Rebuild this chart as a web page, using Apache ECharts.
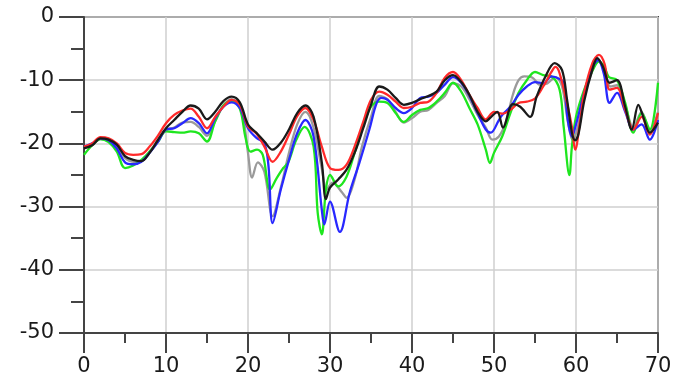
<!DOCTYPE html>
<html>
<head>
<meta charset="utf-8">
<script src="https://cdn.jsdelivr.net/npm/echarts@6/dist/echarts.min.js"></script>
<style>html,body{margin:0;padding:0;background:#fff}#c{width:688px;height:383px}</style>
</head>
<body>
<div id="c"></div>
<script>
const xTicks = [0, 10, 20, 30, 40, 50, 60, 70];
const yTicks = [0, -10, -20, -30, -40, -50];

const blackX = [0,1,2,3,4,5,6,7,8,9,10,11,12,13,14,15,16,17,18,19,20,21,22,23,24,25,26,27,28,29,29.5,30,31,32,33,34,35,36,37,38,39,40,41,42,43,44,45,46,47,48,49,49.5,50.4,51.1,52.3,53.2,54.4,55.2,56.2,57.4,58.3,58.9,59.5,59.9,60.3,61,62,62.6,63.3,64.1,65,66,66.8,67.6,68.2,69,70];
const blackY = [-20.8,-20.3,-19.2,-19.4,-20.2,-22,-22.6,-22.8,-21.5,-19.5,-17.6,-16.3,-15,-14,-14.5,-16.2,-15,-13.3,-12.6,-13.5,-17,-18.3,-19.7,-21,-19.9,-17.8,-15.2,-14,-15.8,-23,-28.8,-27,-25.7,-24.2,-21.5,-17.8,-13.9,-11,-11.5,-12.8,-13.9,-13.6,-13,-12.5,-11.8,-10,-9.2,-10.3,-12.3,-15,-16.5,-16,-15,-17.5,-13.8,-14.2,-15.8,-12.6,-9.6,-7.3,-8.4,-13,-18.3,-19.5,-18.5,-13.3,-8.3,-6.5,-7.9,-10.4,-10,-14.2,-17.8,-13.9,-15.8,-18.3,-16.7];

const redX = [0,1,2,3,4,5,6,7,8,9,10,11,12,13,14,15,16,17,18,19,20,21,22,23,24,25,26,27,28,29,30,31,32,33,34,35,36,37,38,39,40,41,42,43,44,45,46,47,48,49,50,51,52,53,54,55,56,57,57.5,58,59,59.5,59.9,60.5,61,62,62.8,63.5,64.1,65,66,67,68,69,70];
const redY = [-20.5,-20,-19,-19.2,-20,-21.5,-21.8,-21.7,-20.5,-18.8,-16.8,-15.5,-14.8,-14.5,-15.8,-17.6,-15.8,-14.2,-13.1,-13.9,-17.3,-18.4,-20.5,-22.9,-21.3,-18.6,-15.7,-14.4,-16.3,-20.5,-23.9,-24.2,-23.4,-20.5,-16.8,-13.1,-11.8,-12.3,-13.4,-14.4,-14.2,-13.6,-13.4,-12,-9.6,-8.7,-10,-12.3,-14.4,-16.2,-15,-15.3,-14.7,-13.6,-13.4,-12.9,-11,-8.7,-7.9,-8.9,-14.2,-17.4,-21,-16.5,-12,-7.3,-6,-7.5,-11.5,-11.2,-14.7,-17.8,-15.8,-18.6,-15.2];

const blueX = [0,1,2,3,4,5,6,7,8,9,10,11,12,13,14,15,16,17,18,19,20,21,22,22.5,23,24,25,26,27,28,29,29.3,30,31.2,32.4,33.6,34.8,35.7,36.3,37,38,39,40,41,42,43,44,45,46,47,48,49,49.6,50.6,51,52,53,54,55,56,57,58,58.5,59,59.5,60,61,62,62.7,63.4,64.1,65,66,67,68,69,70];
const blueY = [-20.5,-20,-19.2,-19.5,-20.8,-23,-23.3,-22.9,-21.5,-19.8,-17.8,-17.6,-16.8,-16,-16.8,-18.4,-16,-14.2,-13.5,-14.4,-17.6,-19.1,-20,-23.6,-32.6,-27.3,-22.6,-18.4,-16.3,-18.9,-30.5,-32.8,-29.2,-34,-27.8,-23,-17.8,-13.6,-12.8,-13.1,-14.4,-15.2,-14.4,-12.8,-12.6,-12,-10.7,-9.5,-10.4,-12.5,-15.2,-17.8,-18.3,-16.3,-15.5,-14.2,-12.3,-11,-10.3,-10.5,-9.4,-9.8,-10.4,-16.3,-18.9,-17,-12,-8,-6.8,-9,-13.6,-12,-15,-17.8,-17,-19.4,-16.3];

const greenX = [0,1,2,3,4,5,6,7,8,9,10,11,12,13,14,15,16,17,18,19,19.7,20.3,21.1,21.8,22.7,23.5,24.3,24.9,25.9,26.9,28,28.5,29,29.5,30,31,32,33,34,35,36,37,38,39,40,41,42,43,44,45,46,47,48,49,49.5,50,51,52,53,54,55,56,57,58,58.5,59.2,59.5,60,61,62,62.8,63.5,64,65,66,67,68,69,70];
const greenY = [-21.8,-20.3,-19.3,-19.8,-21.3,-23.9,-23.5,-22.6,-21.3,-19.8,-18.1,-18.2,-18.3,-18.1,-18.4,-19.7,-16.5,-14,-13.3,-14.5,-19.1,-21.3,-21,-21.8,-27.3,-25.5,-23.9,-23,-19.4,-17.4,-20.5,-31,-34.4,-27.3,-25,-26.8,-25.3,-21.5,-17.4,-14.2,-13.4,-13.6,-15.2,-16.6,-15.5,-14.7,-14.4,-13.4,-12,-10.4,-11.8,-14.4,-17,-21,-23.1,-21.5,-18.9,-15.2,-12,-10,-8.7,-9.2,-9.4,-11.5,-17.4,-25,-20.5,-15.8,-11.5,-8.5,-7,-8,-9.5,-10,-13.6,-18.3,-15.2,-17.8,-10.4];

const grayX = [0,1,2,3,4,5,6,7,8,9,10,11,12,13,14,15,16,17,18,19,19.5,20,20.5,21.2,22,23,24,25,26,27,28,29,29.6,30.3,31.5,32,33,33.9,35,36,37,38,39,40,41,42,43,44,45,46,47,48,49,49.8,50.6,51.4,52.3,53,53.7,54.7,55.6,56.5,57.5,58.3,59,59.6,60.2,61,62,62.7,63.5,64.2,65,66,67,68,69,70];
const grayY = [-20.6,-20.2,-19.3,-19.5,-20.3,-22.3,-22.9,-22.8,-21.3,-19.5,-17.9,-17.5,-16.7,-16.6,-17.4,-18.8,-16.5,-14,-13,-14,-16.5,-21.5,-25.4,-23,-24.5,-31.5,-27,-21.5,-17,-15,-17.5,-24,-27.3,-26.2,-27.8,-28.6,-25.7,-20.5,-15.8,-12.5,-13,-15,-16.7,-16,-15,-14.7,-13.6,-12.5,-10.5,-11,-13,-15.5,-17.5,-19.4,-18.9,-16.8,-12.3,-10,-9.4,-9.6,-10.7,-10.5,-9.5,-11,-16.5,-19.5,-17.5,-12.5,-8.5,-7,-8.5,-11,-10.8,-14,-17.5,-15,-18,-15];

function pairs(xs, ys) { return xs.map((x, i) => [x, ys[i]]); }

const font = 'DejaVu Sans';
const chart = echarts.init(document.getElementById('c'), null, {renderer: 'canvas'});
const mkSeries = (name, xs, ys, color) => ({
  name, type: 'line', data: pairs(xs, ys), showSymbol: false, smooth: 0.35,
  lineStyle: {color, width: 2.3}, itemStyle: {color}, animation: false
});
chart.setOption({
  animation: false,
  grid: {left: 84, right: 30, top: 17, bottom: 50, show: true, borderColor: '#444', borderWidth: 2},
  xAxis: {
    type: 'value', min: xTicks[0], max: xTicks[xTicks.length - 1], interval: 10,
    axisLine: {onZero: false, lineStyle: {color: '#444', width: 2}},
    axisTick: {show: true, length: 20, lineStyle: {color: '#444', width: 2}},
    minorTick: {show: true, splitNumber: 2, length: 10, lineStyle: {color: '#444', width: 2}},
    splitLine: {show: true, lineStyle: {color: '#cfcfcf', width: 1.5}},
    axisLabel: {margin: 23, fontSize: 21, color: '#1a1a1a', fontFamily: font}
  },
  yAxis: {
    type: 'value', min: yTicks[yTicks.length - 1], max: yTicks[0], interval: 10,
    axisLine: {onZero: false, lineStyle: {color: '#444', width: 2}},
    axisTick: {show: true, length: 25, lineStyle: {color: '#444', width: 2}},
    minorTick: {show: true, splitNumber: 2, length: 13, lineStyle: {color: '#444', width: 2}},
    splitLine: {show: true, lineStyle: {color: '#cfcfcf', width: 1.5}},
    axisLabel: {margin: 30, fontSize: 21, color: '#1a1a1a', fontFamily: font}
  },
  series: [
    mkSeries('gray', grayX, grayY, '#9a9a9a'),
    mkSeries('green', greenX, greenY, '#1ee61e'),
    mkSeries('blue', blueX, blueY, '#2828ff'),
    mkSeries('red', redX, redY, '#ff2a2a'),
    mkSeries('black', blackX, blackY, '#1a1a1a')
  ]
});
</script>
</body>
</html>
